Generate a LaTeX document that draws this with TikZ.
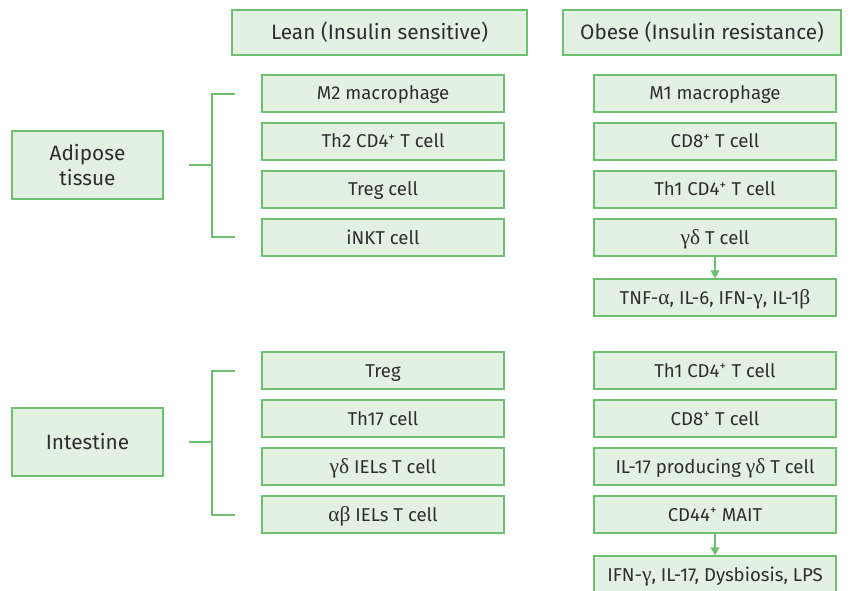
\documentclass[tikz,border=0pt]{standalone}
\usepackage{fontspec}
\setmainfont{Fira Sans}
\newfontfamily\grk[Scale=1.15]{Liberation Serif}
\usetikzlibrary{arrows.meta}
\definecolor{boxline}{HTML}{6CC070}
\definecolor{boxfill}{HTML}{E2F1E1}
\definecolor{txt}{HTML}{2E2E2E}
\newcommand{\gr}[1]{{\grk #1}}
\newcommand{\pos}{\textsuperscript{+}}
\begin{document}
\begin{tikzpicture}[x=1pt, y=-1pt,
  cbox/.style={draw=boxline, fill=boxfill, line width=1.3pt, text=txt, inner sep=0pt, minimum width=242pt, minimum height=37pt, text height=14pt, text depth=1pt, font=\fontsize{18.6}{21}\selectfont},
  hbox/.style={cbox, minimum height=45pt, text height=15pt, text depth=1.4pt, font=\fontsize{20.8}{24}\selectfont},
  tbox/.style={draw=boxline, fill=boxfill, line width=1.3pt, text=txt, inner sep=0pt, minimum width=151pt, minimum height=68pt, align=center, font=\fontsize{20.8}{25}\selectfont},
  brk/.style={draw=boxline, line width=1.3pt},
  arr/.style={brk, -{Triangle[width=9pt,length=8pt]}}]
\useasboundingbox (0,0) rectangle (855,591);
\node[hbox, minimum width=295pt] (hlean) at (379.5,32.5){Lean (Insulin sensitive)};
\node[hbox, minimum width=278pt] (hobese) at (702,32.5){Obese (Insulin resistance)};

\node[tbox] (adi) at (87.5,165){Adipose\\tissue};
\node[cbox] (al1) at (383,93.5){M2 macrophage};
\node[cbox] (al2) at (383,141.5){Th2 CD4\pos{} T cell};
\node[cbox] (al3) at (383,189.5){Treg cell};
\node[cbox] (al4) at (383,237.5){iNKT cell};
\node[cbox] (ao1) at (715,93.5){M1 macrophage};
\node[cbox] (ao2) at (715,141.5){CD8\pos{} T cell};
\node[cbox] (ao3) at (715,189.5){Th1 CD4\pos{} T cell};
\node[cbox] (ao4) at (715,237.5){\gr{γδ} T cell};
\node[cbox] (ao5) at (715,297.5){TNF-\gr{α}, IL-6, IFN-\gr{γ}, IL-1\gr{β}};
\draw[arr](ao4) -- (ao5);

\coordinate (ab0) at (189,165);
\coordinate (ab1) at (212,165);
\coordinate (ab2) at (235,94);
\coordinate (ab3) at (235,237);
\draw[brk](ab0) -- (ab1);
\draw[brk](ab2) -| (ab1) |- (ab3);

\node[tbox] (int) at (87.5,442){Intestine};
\node[cbox] (il1) at (383,370.5){Treg};
\node[cbox] (il2) at (383,418.5){Th17 cell};
\node[cbox] (il3) at (383,466.5){\gr{γδ} IELs T cell};
\node[cbox] (il4) at (383,514.5){\gr{αβ} IELs T cell};
\node[cbox] (io1) at (715,370.5){Th1 CD4\pos{} T cell};
\node[cbox] (io2) at (715,418.5){CD8\pos{} T cell};
\node[cbox] (io3) at (715,466.5){IL-17 producing \gr{γδ} T cell};
\node[cbox] (io4) at (715,514.5){CD44\pos{} MAIT};
\node[cbox] (io5) at (715,574.5){IFN-\gr{γ}, IL-17, Dysbiosis, LPS};
\draw[arr](io4) -- (io5);

\coordinate (ib0) at (189,442);
\coordinate (ib1) at (212,442);
\coordinate (ib2) at (235,371);
\coordinate (ib3) at (235,515);
\draw[brk](ib0) -- (ib1);
\draw[brk](ib2) -| (ib1) |- (ib3);

\end{tikzpicture}
\end{document}
